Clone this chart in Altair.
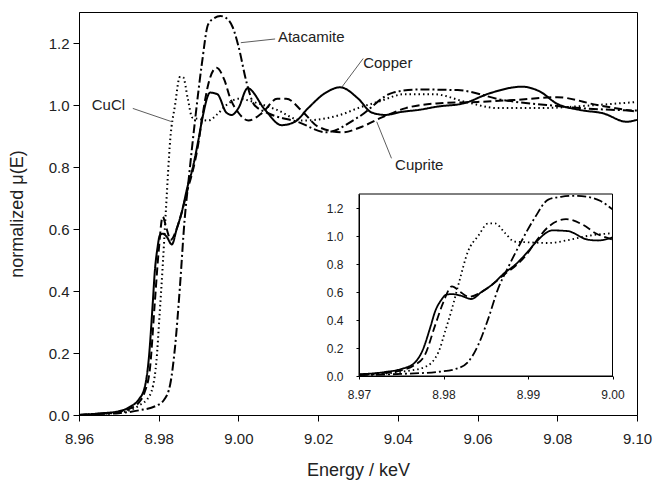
import altair as alt
import pandas as pd

FONT = "Liberation Sans"

# ---------------- data ----------------
SERIES = ["Copper", "Cuprite", "Atacamite", "CuCl"]

COPPER_E = [8.960, 8.965, 8.970, 8.973, 8.975, 8.9765, 8.9775, 8.9785, 8.979, 8.9797,
            8.9803, 8.981, 8.982, 8.9833, 8.9845, 8.9857, 8.9873, 8.9884, 8.990, 8.991,
            8.9929, 8.9947, 8.997, 8.9983, 9.000, 9.0023, 9.0067, 9.0108, 9.0142, 9.0175,
            9.0217, 9.0255, 9.0301, 9.0334, 9.0368, 9.041, 9.0451, 9.050, 9.0564, 9.0631,
            9.0711, 9.0757, 9.0798, 9.0857, 9.0915, 9.0974, 9.100]
COPPER_MU = [0.0, 0.005, 0.012, 0.028, 0.05, 0.09, 0.18, 0.36, 0.46, 0.54,
             0.58, 0.585, 0.575, 0.55, 0.60, 0.65, 0.74, 0.79, 0.89, 0.96,
             1.04, 1.035, 0.975, 0.968, 0.99, 1.054, 0.984, 0.935, 0.946, 0.99,
             1.038, 1.057, 1.02, 0.976, 0.968, 0.978, 0.984, 0.995, 1.005, 1.038,
             1.059, 1.043, 1.005, 0.984, 0.973, 0.946, 0.952]

CUPRITE_E = [8.960, 8.965, 8.970, 8.973, 8.975, 8.9765, 8.9778, 8.979, 8.980, 8.981,
             8.982, 8.983, 8.9845, 8.9857, 8.9873, 8.9884, 8.990, 8.9908, 8.9925, 8.9945,
             8.9965, 8.998, 9.000, 9.0025, 9.006, 9.0097, 9.012, 9.016, 9.020, 9.026,
             9.031, 9.036, 9.042, 9.0497, 9.060, 9.069, 9.080, 9.090, 9.100]
CUPRITE_MU = [0.0, 0.004, 0.01, 0.022, 0.04, 0.075, 0.15, 0.36, 0.53, 0.64,
              0.60, 0.565, 0.60, 0.65, 0.73, 0.78, 0.88, 0.95, 1.07, 1.12,
              1.08, 1.02, 0.975, 0.95, 0.975, 1.02, 1.02, 0.98, 0.93, 0.912,
              0.93, 0.96, 0.99, 1.005, 1.01, 1.016, 1.025, 1.0, 0.978]

ATACAMITE_E = [8.960, 8.965, 8.970, 8.975, 8.9794, 8.9814, 8.9829, 8.9841, 8.9853, 8.9865,
               8.9876, 8.9892, 8.9908, 8.9924, 8.9939, 8.9955, 8.997, 8.9986, 9.000, 9.0021,
               9.004, 9.0072, 9.015, 9.022, 9.030, 9.0388, 9.045, 9.055, 9.0664, 9.0773,
               9.0857, 9.100]
ATACAMITE_MU = [0.0, 0.003, 0.006, 0.015, 0.03, 0.05, 0.10, 0.22, 0.41, 0.63,
                0.77, 0.96, 1.13, 1.26, 1.28, 1.287, 1.28, 1.25, 1.19, 1.07,
                1.0, 0.975, 0.945, 0.912, 0.96, 1.04, 1.05, 1.048, 1.016, 1.0,
                0.99, 0.982]

CUCL_E = [8.960, 8.965, 8.970, 8.975, 8.9778, 8.9794, 8.9802, 8.981, 8.9818, 8.9829,
          8.9841, 8.9853, 8.9861, 8.9873, 8.9884, 8.990, 8.9924, 8.9947, 8.997, 9.000,
          9.005, 9.0095, 9.016, 9.021, 9.026, 9.030, 9.035, 9.0418, 9.049, 9.057,
          9.065, 9.075, 9.090, 9.100]
CUCL_MU = [0.0, 0.004, 0.008, 0.03, 0.064, 0.17, 0.32, 0.48, 0.66, 0.89,
           1.0, 1.09, 1.09, 1.02, 0.96, 0.955, 0.95, 0.97, 1.0, 1.02,
           1.005, 0.985, 0.95, 0.955, 0.97, 0.99, 1.01, 1.035, 1.035, 1.01,
           0.99, 0.99, 1.0, 1.01]

MAIN_X_DOMAIN = [8.96, 9.10]
MAIN_Y_DOMAIN = [0.0, 1.3]
MAIN_X_TICKS = [8.96, 8.98, 9.00, 9.02, 9.04, 9.06, 9.08, 9.10]
MAIN_Y_TICKS = [0.0, 0.2, 0.4, 0.6, 0.8, 1.0, 1.2]

INSET_X_DOMAIN = [8.97, 9.00]
INSET_Y_DOMAIN = [0.0, 1.3]
INSET_X_TICKS = [8.97, 8.98, 8.99, 9.00]
INSET_Y_TICKS = [0.0, 0.2, 0.4, 0.6, 0.8, 1.0, 1.2]

# annotation labels (data coordinates) and leader lines
LABEL_TEXT = ["Atacamite", "Copper", "Cuprite", "CuCl"]
LABEL_E = [9.0099, 9.0313, 9.0393, 8.9632]
LABEL_MU = [1.219, 1.134, 0.806, 1.0]
LEADER_E1 = [9.0006, 9.0259, 9.0347, 8.9735]
LEADER_MU1 = [1.201, 1.057, 0.946, 0.989]
LEADER_E2 = [9.0092, 9.0313, 9.0384, 8.9833]
LEADER_MU2 = [1.213, 1.150, 0.828, 0.946]

# ---------------- tables ----------------
rows = []
for name, es, ms in [("Copper", COPPER_E, COPPER_MU), ("Cuprite", CUPRITE_E, CUPRITE_MU),
                     ("Atacamite", ATACAMITE_E, ATACAMITE_MU), ("CuCl", CUCL_E, CUCL_MU)]:
    for e, m in zip(es, ms):
        rows.append({"series": name, "E": e, "mu": m})
df = pd.DataFrame(rows)

labels_df = pd.DataFrame({"label": LABEL_TEXT, "x": LABEL_E, "y": LABEL_MU})
leaders_df = pd.DataFrame({"x1": LEADER_E1, "y1": LEADER_MU1, "x2": LEADER_E2, "y2": LEADER_MU2})
frame_df = pd.DataFrame({"x1": [INSET_X_DOMAIN[0]], "x2": [INSET_X_DOMAIN[1]],
                         "y1": [INSET_Y_DOMAIN[0]], "y2": [INSET_Y_DOMAIN[1]]})

W, H = 558, 403

dash = alt.StrokeDash(
    "series:N",
    scale=alt.Scale(domain=SERIES, range=[[1, 0], [8, 4], [9, 3, 2, 3], [1.5, 3]]),
    legend=None,
)

# ---------------- main plot ----------------
mx_scale = alt.Scale(domain=MAIN_X_DOMAIN, nice=False, zero=False)
my_scale = alt.Scale(domain=MAIN_Y_DOMAIN, nice=False, zero=False)
mx_axis = alt.Axis(values=MAIN_X_TICKS, format=".2f", title="Energy / keV", grid=False,
                   tickSize=6, labelPadding=10, labelFontSize=15, labelFlush=False,
                   titleFontSize=18, titleX=W / 2, titleY=55, titleBaseline="middle",
                   titleAlign="center")
my_axis = alt.Axis(values=MAIN_Y_TICKS, format=".1f", title="normalized μ(E)", grid=False,
                   tickSize=6, labelPadding=4, labelFontSize=15, labelFlush=False,
                   titleFontSize=18, titleX=-62, titleY=H / 2, titleAngle=-90,
                   titleBaseline="middle", titleAlign="center")

main_lines = alt.Chart(df).mark_line(color="black", strokeWidth=2, interpolate="monotone").encode(
    x=alt.X("E:Q", scale=mx_scale, axis=mx_axis),
    y=alt.Y("mu:Q", scale=my_scale, axis=my_axis),
    strokeDash=dash,
)

leaders = alt.Chart(leaders_df).mark_rule(color="#333333", strokeWidth=0.8).encode(
    x=alt.X("x1:Q", scale=mx_scale, axis=mx_axis),
    x2="x2:Q",
    y=alt.Y("y1:Q", scale=my_scale, axis=my_axis),
    y2="y2:Q",
)

labels = alt.Chart(labels_df).mark_text(align="left", baseline="middle", fontSize=15,
                                        font=FONT, color="#222222").encode(
    x=alt.X("x:Q", scale=mx_scale, axis=mx_axis),
    y=alt.Y("y:Q", scale=my_scale, axis=my_axis),
    text="label:N",
)

main = alt.layer(main_lines, leaders, labels)

# ---------------- inset ----------------
IX0, IX1 = 280, 533.5   # pixel range inside the plot area
IY0, IY1 = 364, 182
ix_scale = alt.Scale(domain=INSET_X_DOMAIN, range=[IX0, IX1], nice=False, zero=False)
iy_scale = alt.Scale(domain=INSET_Y_DOMAIN, range=[IY0, IY1], nice=False, zero=False)
ix_axis = alt.Axis(values=INSET_X_TICKS, format=".2f", title=None, grid=False, orient="bottom",
                   offset=IY0 - H, tickSize=3, labelPadding=10, labelFontSize=12,
                   labelFlush=False, zindex=1)
iy_axis = alt.Axis(values=INSET_Y_TICKS, format=".1f", title=None, grid=False, orient="left",
                   offset=-IX0, tickSize=3, labelPadding=13, labelFontSize=12,
                   labelFlush=False, zindex=1)

inset_frame = alt.Chart(frame_df).mark_rect(fill="white", stroke="black", strokeWidth=1).encode(
    x=alt.X("x1:Q", scale=ix_scale, axis=ix_axis),
    x2="x2:Q",
    y=alt.Y("y1:Q", scale=iy_scale, axis=iy_axis),
    y2="y2:Q",
)

inset_lines = alt.Chart(df).transform_filter(
    (alt.datum.E >= INSET_X_DOMAIN[0]) & (alt.datum.E <= INSET_X_DOMAIN[1])
).mark_line(color="black", strokeWidth=1.8, interpolate="monotone").encode(
    x=alt.X("E:Q", scale=ix_scale, axis=ix_axis),
    y=alt.Y("mu:Q", scale=iy_scale, axis=iy_axis),
    strokeDash=dash,
)

inset = alt.layer(inset_frame, inset_lines)

chart = alt.layer(main, inset).resolve_scale(
    x="independent", y="independent", strokeDash="shared"
).resolve_axis(x="independent", y="independent").properties(
    width=W, height=H,
    autosize=alt.AutoSizeParams(type="none"),
    padding={"left": 79, "top": 12, "right": 19, "bottom": 66},
    background="white",
).configure_view(
    stroke="black", strokeWidth=1
).configure_axis(
    domainColor="black", tickColor="black", labelColor="#222222", titleColor="#222222",
    labelFont=FONT, titleFont=FONT, titleFontWeight="normal", domainWidth=1, tickWidth=1,
)

chart.save("out.html", embed_options={"renderer": "svg", "actions": False})
